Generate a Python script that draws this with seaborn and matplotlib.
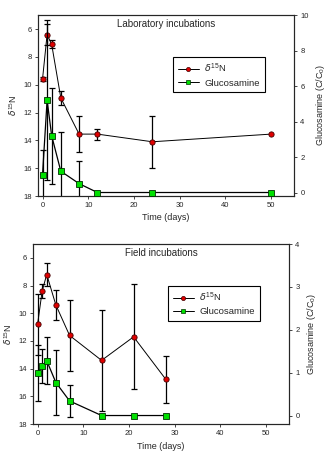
import numpy as np
import pandas as pd
import matplotlib
matplotlib.use("Agg")
import matplotlib.pyplot as plt
import seaborn as sns
from matplotlib.lines import Line2D

sns.set_style("ticks")
plt.rcParams['font.family'] = ['Liberation Sans', 'DejaVu Sans']
plt.rcParams['mathtext.fontset'] = 'custom'
plt.rcParams['mathtext.rm'] = 'Liberation Sans'

# Laboratory incubations
lab_time = [0, 1, 2, 4, 8, 12, 24, 50]
lab_d15n = [9.6, 6.4, 7.1, 10.95, 13.55, 13.55, 14.1, 13.55]
lab_d15n_err = [0.15, 0.75, 0.3, 0.5, 1.3, 0.4, 1.85, 0.0]
lab_gluc = [1.0, 5.2, 3.2, 1.2, 0.5, 0.0, 0.0, 0.0]
lab_gluc_err = [1.4, 4.5, 2.7, 2.2, 1.3, 0.0, 0.0, 0.0]

# Field incubations
field_time = [0, 1, 2, 4, 7, 14, 21, 28]
field_d15n = [10.8, 8.4, 7.2, 9.4, 11.6, 13.4, 11.7, 14.75]
field_d15n_err = [2.2, 0.5, 0.8, 1.1, 2.55, 3.65, 3.8, 1.7]
field_gluc = [1.0, 1.15, 1.28, 0.77, 0.34, 0.0, 0.0, 0.0]
field_gluc_err = [0.65, 0.4, 0.55, 0.75, 0.38, 0.0, 0.0, 0.0]

fig = plt.figure(figsize=(3.3, 4.57), dpi=100)
fs_tick = 5.5
fs_lab = 6.5

def panel(rect, t, d, de, g, ge, title, rlim, rticks):
    ax = fig.add_axes(rect)
    df1 = pd.DataFrame({"t": t, "v": d})
    df2 = pd.DataFrame({"t": t, "v": g})
    nz = [i for i, e in enumerate(de) if e > 0]
    ax.errorbar([t[i] for i in nz], [d[i] for i in nz], yerr=[de[i] for i in nz],
                fmt='none', ecolor='black', elinewidth=0.9, capsize=2.5, capthick=0.9, zorder=2)
    sns.lineplot(data=df1, x="t", y="v", ax=ax, color="black", lw=0.7, marker='o',
                 markersize=3.8, markerfacecolor='#e00000', markeredgecolor='#400000',
                 markeredgewidth=0.6, zorder=3, legend=False, estimator=None)
    ax.set_ylim(18, 5)
    ax.set_xlim(-1, 55)
    ax.set_yticks([6, 8, 10, 12, 14, 16, 18])
    ax.set_xticks([0, 10, 20, 30, 40, 50])
    ax.set_xlabel("Time (days)", fontsize=fs_lab, labelpad=3)
    ax.set_ylabel(r"$\delta^{15}$N", fontsize=fs_lab, labelpad=3)
    ax.tick_params(labelsize=fs_tick, length=2.5, width=0.6, pad=2)
    for s in ax.spines.values():
        s.set_linewidth(0.8)
    ax2 = ax.twinx()
    nz2 = [i for i, e in enumerate(ge) if e > 0]
    ax2.errorbar([t[i] for i in nz2], [g[i] for i in nz2], yerr=[ge[i] for i in nz2],
                 fmt='none', ecolor='black', elinewidth=0.9, capsize=2.5, capthick=0.9, zorder=2)
    sns.lineplot(data=df2, x="t", y="v", ax=ax2, color="black", lw=0.9, marker='s',
                 markersize=4.5, markerfacecolor='#00e000', markeredgecolor='#003000',
                 markeredgewidth=0.6, zorder=3, legend=False, estimator=None)
    ax2.set_ylim(*rlim)
    ax2.set_yticks(rticks)
    ax2.set_ylabel(r"Glucosamine (C/C$_0$)", fontsize=fs_lab, labelpad=4)
    ax2.tick_params(labelsize=fs_tick, length=2.5, width=0.6, pad=2)
    ax2.set_xlabel("")
    for s in ax2.spines.values():
        s.set_linewidth(0.8)
    ax.text(0.5, 0.978, title, transform=ax.transAxes, ha='center', va='top', fontsize=7)
    h1 = Line2D([], [], color='black', lw=0.7, marker='o', markersize=3,
                markerfacecolor='#e00000', markeredgecolor='#400000', markeredgewidth=0.5)
    h2 = Line2D([], [], color='black', lw=0.7, marker='s', markersize=3.5,
                markerfacecolor='#00e000', markeredgecolor='#003000', markeredgewidth=0.5)
    leg = ax2.legend([h1, h2], [r"$\delta^{15}$N", "Glucosamine"], loc='upper left',
                     bbox_to_anchor=(0.51, 0.795), fontsize=6.8, frameon=True,
                     fancybox=False, edgecolor='black', framealpha=1,
                     handlelength=2.2, borderpad=0.5, labelspacing=0.4, handletextpad=0.6)
    leg.get_frame().set_linewidth(0.8)
    return ax, ax2

panel([0.115, 0.571, 0.776, 0.396], lab_time, lab_d15n, lab_d15n_err, lab_gluc, lab_gluc_err,
      "Laboratory incubations", (-0.2, 10), [0, 2, 4, 6, 8, 10])
panel([0.1, 0.072, 0.776, 0.394], field_time, field_d15n, field_d15n_err, field_gluc, field_gluc_err,
      "Field incubations", (-0.2, 4), [0, 1, 2, 3, 4])

fig.savefig("out.png", dpi=100)
